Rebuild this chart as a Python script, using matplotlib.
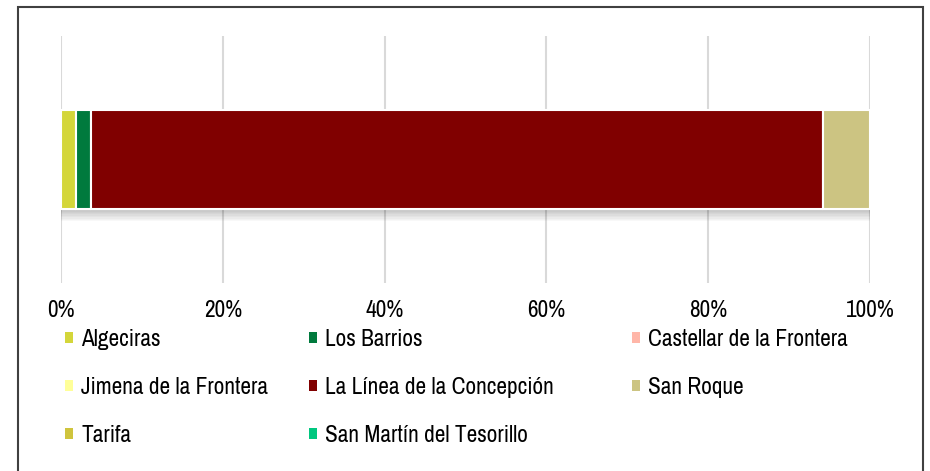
import matplotlib
matplotlib.use("Agg")
import matplotlib.pyplot as plt
from matplotlib.patches import Rectangle, Patch
import matplotlib.patheffects as pe

plt.rcParams['font.family'] = ['Archivo Narrow', 'Roboto Condensed', 'PT Sans Narrow',
                               'Liberation Sans', 'DejaVu Sans']

municipios = ["Algeciras", "Los Barrios", "Castellar de la Frontera",
              "Jimena de la Frontera", "La Línea de la Concepción", "San Roque",
              "Tarifa", "San Martín del Tesorillo"]
valores = [1.8, 1.9, 0.0, 0.0, 90.5, 5.8, 0.0, 0.0]
colores = ["#D4D63A", "#007A3D", "#FFB6A8", "#FFFF99", "#800000", "#CCC482",
           "#CFC43D", "#00C77F"]
ticks = [0, 20, 40, 60, 80, 100]
tick_labels = ["0%", "20%", "40%", "60%", "80%", "100%"]

W, H = 930, 471
FS = 16.8
fig = plt.figure(figsize=(W / 100, H / 100), dpi=100)
ax = fig.add_axes([61 / W, 1 - 283 / H, (870 - 61) / W, (283 - 36) / H])

shadow = [pe.SimplePatchShadow(offset=(0, -k), shadow_rgbFace='#000000', alpha=0.028)
          for k in range(1, 10)]
left = 0.0
for v, c in zip(valores, colores):
    if v > 0:
        ax.barh(0, v, left=left, height=0.4, color=c, edgecolor='white', linewidth=1.5,
                zorder=3, path_effects=shadow + [pe.Normal()])
    left += v

ax.set_xlim(0, 100)
ax.set_ylim(-0.5, 0.5)
ax.set_xticks(ticks)
ax.set_xticklabels(tick_labels, fontsize=FS)
ax.set_yticks([])
ax.tick_params(axis='x', length=0, pad=12)
ax.grid(axis='x', color='#D9D9D9', linewidth=1.5, zorder=0)
for s in ax.spines.values():
    s.set_visible(False)

handles = [Patch(facecolor=c, edgecolor='none') for c in colores]
cols = [[0, 3, 6], [1, 4, 7], [2, 5]]
col_x = [65, 309, 632]
for xs, idx in zip(col_x, cols):
    fig.legend([handles[i] for i in idx], [municipios[i] for i in idx],
               loc='upper left', bbox_to_anchor=(xs / W, 1 - 329 / H),
               frameon=False, fontsize=FS, handlelength=0.34, handleheight=0.34,
               handletextpad=0.36, labelspacing=1.16, borderpad=0, borderaxespad=0)

fig.patches.append(Rectangle((18 / W, -0.02), (923 - 18) / W, (H - 7) / H + 0.02,
                             transform=fig.transFigure, fill=False,
                             edgecolor='#404040', linewidth=1.5))

fig.savefig("out.png", dpi=100)
